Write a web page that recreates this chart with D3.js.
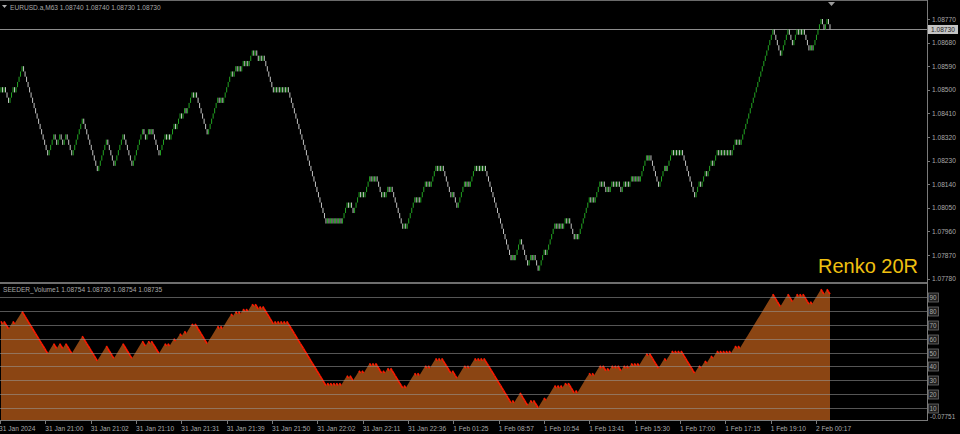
<!DOCTYPE html>
<html><head><meta charset="utf-8">
<script src="https://cdn.jsdelivr.net/npm/d3@7"></script>
<style>
body{margin:0;background:#000;}
svg{display:block;}
text{font-family:"Liberation Sans",Arial,sans-serif;}
</style>
</head><body>
<svg id="c" width="960" height="434"></svg>
<script>
// ---------- DATA ----------
const symbolName = "EURUSD.a,M63";
const symbolOHLC = ["1.08740", "1.08740", "1.08730", "1.08730"];
const indicatorName = "SEEDER_Volume1";
const indicatorOHLC = ["1.08754", "1.08730", "1.08754", "1.08735"];
const watermark = "Renko 20R";

const brickSize = 0.0002;
const basePrice = 1.0777;
const startLevel = 36;
// signed brick runs (up = +, down = -)
const runs = [
  1,-1,1,-3,3,-1,5,
  -17,
  4,-2,2,-2,2,-4,
  7,-10,
  6,-5,6,-6,7,
  -2,2,-1,1,-5,
  4,-1,1,-1,3,-1,1,2,-1,2,-1,1,3,-1,1,
  -8,
  7,-1,1,-1,1,5,
  -1,2,-1,1,-1,2,-1,1,-1,3,-1,1,
  -2,1,-1,1,-1,
  -6,
  1,-1,1,-1,1,-1,1,-1,1,-1,
  -25,
  1,-1,1,-1,1,-1,1,-1,1,-1,
  4,-1,1,-2,4,-1,1,-1,4,-1,1,-1,1,
  -4,1,-1,2,-1,1,-8,1,-1,
  6,-1,1,-1,4,-1,1,-1,4,-1,1,-1,1,
  -6,1,-3,
  5,-1,1,-1,4,-1,1,-1,1,-1,1,
  -18,
  1,-1,
  4,-5,
  2,-1,1,-1,
  -2,
  4,-1,1,5,
  -1,1,-1,1,-1,1,1,-1,1,
  -4,1,-1,
  8,
  -1,1,-1,2,
  2,-1,1,-2,1,-1,2,-1,1,-1,1,-2,2,-1,1,-1,2,-1,1,
  -1,1,-1,1,4,-1,1,
  -6,
  4,-1,1,3,-1,1,-1,1,-1,1,
  -9,
  3,-1,1,2,-1,1,2,-1,1,2,-1,1,
  -1,1,-1,1,-1,1,-1,1,2,-1,1,-1,1,
  21,
  -5,5,-3,2,1,-1,1,-1,1,-4,1,-1,6,-2,2,-2
];
const lastPrice = 1.0873;
const priceTicks = [1.0877, 1.0868, 1.0859, 1.0850, 1.0841, 1.0832, 1.0823, 1.0814, 1.0805, 1.0796, 1.0787, 1.0778];
const seederTicks = [90, 80, 70, 60, 50, 40, 30, 20, 10];
const seederBottomLabel = "-0.07751";
// SEEDER value tracks price: value at reference price, and units per price unit
const seederRefPrice = 1.0848, seederRefValue = 70, seederPerPrice = 8958;
const timeLabels = ["31 Jan 2024", "31 Jan 21:00", "31 Jan 21:02", "31 Jan 21:10", "31 Jan 21:31",
  "31 Jan 21:39", "31 Jan 21:50", "31 Jan 22:02", "31 Jan 22:11", "31 Jan 22:36", "1 Feb 01:25",
  "1 Feb 08:57", "1 Feb 10:54", "1 Feb 13:41", "1 Feb 15:30", "1 Feb 17:00", "1 Feb 17:15",
  "1 Feb 19:10", "2 Feb 00:17"];

// ---------- BUILD BRICKS ----------
const bricks = [];
let lvl = startLevel;
runs.forEach(r => {
  const dir = Math.sign(r);
  for (let k = 0; k < Math.abs(r); k++) {
    const o = basePrice + lvl * brickSize;
    lvl += dir;
    const c = basePrice + lvl * brickSize;
    bricks.push({i: bricks.length, open: o, close: c, up: dir > 0});
  }
});
const N = bricks.length;

// ---------- LAYOUT ----------
const W = 960, H = 434;
const plotRight = 927;
const svg = d3.select("#c");
svg.append("rect").attr("width", W).attr("height", H).attr("fill", "#000");

const x = d3.scaleLinear().domain([0, N - 1]).range([1, 830]);
const yP = d3.scaleLinear().domain([1.0778, 1.0877]).range([278.6, 19]);
const yS = d3.scaleLinear().domain([0, 100]).range([421.5, 283.7]);
const xT = d3.scalePoint().domain(timeLabels).range([0, 816]);

const textCol = "#a9a9a9";

// ---------- TOP PANEL ----------
const gTop = svg.append("g");
gTop.append("line").attr("x1", 0).attr("x2", plotRight).attr("y1", 0.5).attr("y2", 0.5).attr("stroke", "#6a6a6a");
gTop.append("line").attr("x1", 0).attr("x2", plotRight).attr("y1", Math.round(yP(lastPrice)) + 0.5)
  .attr("y2", Math.round(yP(lastPrice)) + 0.5).attr("stroke", "#8c8c8c");

gTop.append("g").selectAll("line").data(bricks).join("line")
  .attr("x1", d => x(d.i)).attr("x2", d => x(d.i))
  .attr("y1", d => yP(d.open)).attr("y2", d => yP(d.close))
  .attr("stroke", d => d.up ? "#22a422" : "#c4c4c4").attr("stroke-width", 1);

gTop.append("path").attr("d", "M2,5 L7,5 L4.5,8 Z").attr("fill", "#b0b0b0");
gTop.append("text").attr("x", 10).attr("y", 10).attr("font-size", 6.6).attr("fill", textCol)
  .text(symbolName + " " + symbolOHLC.join(" "));
gTop.append("path").attr("d", `M${x(N - 1) - 2},2 L${x(N - 1) + 5},2 L${x(N - 1) + 1.5},6 Z`).attr("fill", "#9a9a9a");

gTop.append("text").attr("x", 918).attr("y", 273).attr("text-anchor", "end")
  .attr("font-family", "DejaVu Sans").attr("font-size", 20).attr("fill", "#f0c010").text(watermark);

const pa = svg.append("g");
priceTicks.forEach(t => {
  const yy = yP(t);
  pa.append("line").attr("x1", plotRight).attr("x2", plotRight + 3).attr("y1", Math.round(yy) + 0.5).attr("y2", Math.round(yy) + 0.5).attr("stroke", "#777");
  pa.append("text").attr("x", 932).attr("y", yy + 2.5).attr("font-size", 6.6).attr("fill", textCol).text(t.toFixed(5));
});
pa.append("rect").attr("x", 928).attr("y", yP(lastPrice) - 4.5).attr("width", 30).attr("height", 9).attr("fill", "#c4c4c4");
pa.append("text").attr("x", 931).attr("y", yP(lastPrice) + 2.5).attr("font-size", 6.6).attr("fill", "#1a1a1a").text(lastPrice.toFixed(5));

// ---------- BOTTOM PANEL ----------
const seeder = p => seederRefValue + (p - seederRefPrice) * seederPerPrice;
const bot = svg.append("g");
bot.append("path").datum(bricks)
  .attr("d", d3.area().x(d => x(d.i)).y0(420).y1(d => yS(seeder(d.close))))
  .attr("fill", "#8b4513");
const segLine = d3.line().x(d => d[0]).y(d => d[1]);
bot.append("g").selectAll("path").data(bricks.filter(d => !d.up && d.i > 0)).join("path")
  .attr("d", d => segLine([[x(d.i - 1), yS(seeder(bricks[d.i - 1].close))], [x(d.i), yS(seeder(d.close))]]))
  .attr("stroke", "#ff1a00").attr("stroke-width", 1.6).attr("fill", "none");
seederTicks.forEach(t => {
  const yy = Math.round(yS(t)) + 0.5;
  bot.append("line").attr("x1", 0).attr("x2", plotRight).attr("y1", yy).attr("y2", yy)
    .attr("stroke", "#9a9a9a").attr("stroke-opacity", 0.55);
  bot.append("rect").attr("x", 928.5).attr("y", yy - 4.5).attr("width", 10).attr("height", 9)
    .attr("fill", "#202020").attr("stroke", "#6c6c6c").attr("stroke-width", 0.8);
  bot.append("text").attr("x", 929.5).attr("y", yy + 2.4).attr("font-size", 6.4).attr("fill", textCol).text(t);
});
bot.append("text").attr("x", 930).attr("y", 419).attr("font-size", 6.4).attr("fill", textCol).text(seederBottomLabel);
svg.append("rect").attr("x", 0).attr("y", 282).attr("width", plotRight).attr("height", 2).attr("fill", "#6e6e6e");
svg.append("text").attr("x", 3).attr("y", 292).attr("font-size", 6.6).attr("fill", textCol)
  .text(indicatorName + " " + indicatorOHLC.join(" "));
svg.append("line").attr("x1", plotRight + 0.5).attr("x2", plotRight + 0.5).attr("y1", 0).attr("y2", 421).attr("stroke", "#7a7a7a");
svg.append("line").attr("x1", 0).attr("x2", plotRight + 1).attr("y1", 420.5).attr("y2", 420.5).attr("stroke", "#7a7a7a");

// ---------- TIME AXIS ----------
const ta = svg.append("g");
timeLabels.forEach(l => {
  const xx = Math.round(xT(l)) + 0.5;
  ta.append("line").attr("x1", xx).attr("x2", xx).attr("y1", 420).attr("y2", 424).attr("stroke", "#7a7a7a");
  ta.append("text").attr("x", xT(l) + (l === timeLabels[0] ? -1 : 0)).attr("y", 431).attr("font-size", 6.6).attr("fill", textCol).text(l);
});
</script>
</body></html>
